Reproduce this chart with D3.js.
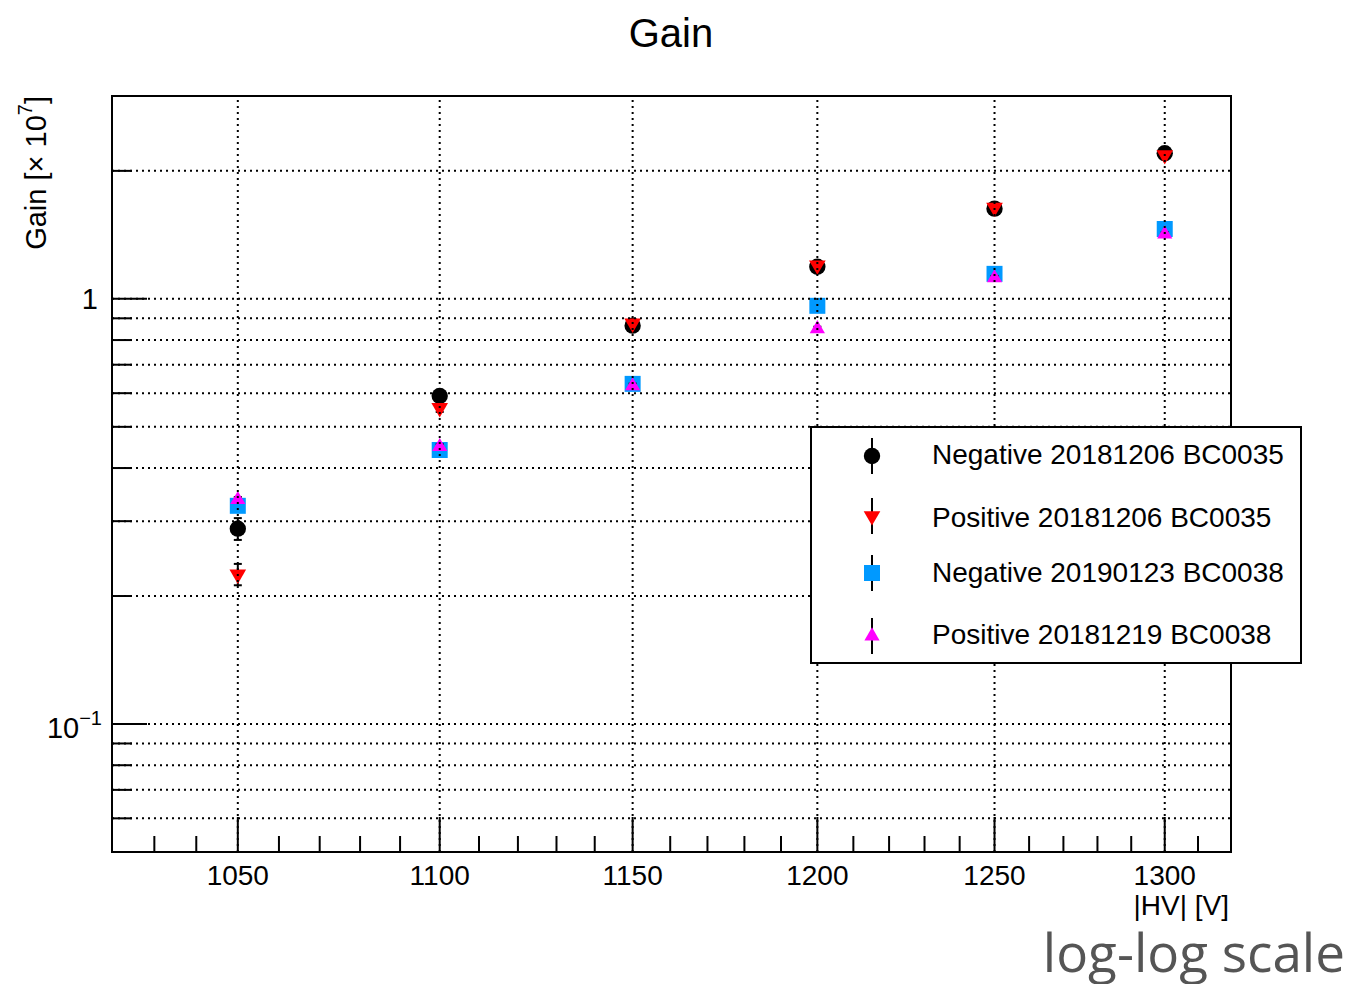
<!DOCTYPE html>
<html><head><meta charset="utf-8">
<script src="https://cdn.jsdelivr.net/npm/d3@7"></script>
<style>
body{margin:0;background:#fff}
text{font-family:"Liberation Sans",Arial,Helvetica,sans-serif;fill:#000}
</style>
</head><body><svg id="c" width="1352" height="984"></svg>
<script>
// ---- data ----
const hv = [1050, 1100, 1150, 1200, 1250, 1300];
const negA = [0.288, 0.591, 0.865, 1.19, 1.63, 2.20];
const negAErr = [0.017, 0.012, 0.018, 0.03, 0.05, 0.07];
const posA = [0.225, 0.554, 0.876, 1.20, 1.64, 2.18];
const posAErr = [0.013, 0.012, 0.015, 0.02, 0.03, 0.04];
const negB = [0.326, 0.441, 0.631, 0.963, 1.145, 1.46];
const negBErr = [0.005, 0.006, 0.008, 0.01, 0.012, 0.015];
const posB = [0.337, 0.449, 0.624, 0.85, 1.12, 1.42];
const posBErr = [0.005, 0.006, 0.008, 0.01, 0.012, 0.015];
const seriesNames = ["Negative 20181206 BC0035", "Positive 20181206 BC0035",
                     "Negative 20190123 BC0038", "Positive 20181219 BC0038"];
const seriesColors = ["#000000", "#ff0000", "#0099ff", "#ff00ff"];
const xTickValues = [1050, 1100, 1150, 1200, 1250, 1300];
const xMinorTicks = [1030,1040,1060,1070,1080,1090,1110,1120,1130,1140,1160,1170,1180,1190,1210,1220,1230,1240,1260,1270,1280,1290,1310];
const yMajorTicks = [0.1, 1];
const yMinorTicks = [0.06,0.07,0.08,0.09,0.2,0.3,0.4,0.5,0.6,0.7,0.8,0.9,2];
const xDomain = [1020, 1320];
const yDomain = [0.05, 3];

// ---- layout ----
const L = 112, R = 1231, T = 96, B = 852;
const svg = d3.select("#c");
const x = d3.scaleLog().domain(xDomain).range([L, R]);
const y = d3.scaleLog().domain(yDomain).range([B, T]);

svg.append("rect").attr("width",1352).attr("height",984).attr("fill","#fff");

// title
svg.append("text").attr("x", 671).attr("y", 47).attr("text-anchor","middle")
  .attr("font-size", 40).text("Gain");

const series = [
  {vals: negA, err: negAErr, sym: d3.symbolCircle, size: 210, rot: 0},
  {vals: posA, err: posAErr, sym: d3.symbolTriangle, size: 120, rot: 180},
  {vals: negB, err: negBErr, sym: d3.symbolSquare, size: 256, rot: 0},
  {vals: posB, err: posBErr, sym: d3.symbolTriangle, size: 100, rot: 0},
];

const plot = svg.append("g");
series.forEach((s, i) => {
  const g = plot.append("g");
  hv.forEach((h, j) => {
    const cx = x(h), v = s.vals[j], e = s.err[j];
    const y1 = y(v + e), y0 = y(v - e);
    g.append("line").attr("x1", cx).attr("x2", cx).attr("y1", y1).attr("y2", y0)
      .attr("stroke", "#000").attr("stroke-width", 2);
    [y1, y0].forEach(yy => g.append("line").attr("x1", cx - 4).attr("x2", cx + 4)
      .attr("y1", yy).attr("y2", yy).attr("stroke", "#000").attr("stroke-width", 2));
    g.append("path").attr("d", d3.symbol(s.sym, s.size)())
      .attr("transform", `translate(${cx},${y(v)}) rotate(${s.rot})`)
      .attr("fill", seriesColors[i]);
  });
});

// grid
const grid = svg.append("g").attr("stroke", "#000").attr("stroke-width", 2)
  .attr("stroke-dasharray", "2,4");
xTickValues.forEach(v => grid.append("line").attr("x1", x(v)).attr("x2", x(v))
  .attr("y1", B).attr("y2", T));
yMajorTicks.concat(yMinorTicks).forEach(v => grid.append("line").attr("x1", L).attr("x2", R)
  .attr("y1", y(v)).attr("y2", y(v)));

// ticks
const tk = svg.append("g").attr("stroke", "#000").attr("stroke-width", 2);
xTickValues.forEach(v => tk.append("line").attr("x1", x(v)).attr("x2", x(v)).attr("y1", B).attr("y2", B - 35));
xMinorTicks.forEach(v => tk.append("line").attr("x1", x(v)).attr("x2", x(v)).attr("y1", B).attr("y2", B - 16));
yMajorTicks.forEach(v => tk.append("line").attr("x1", L).attr("x2", L + 35).attr("y1", y(v)).attr("y2", y(v)));
yMinorTicks.forEach(v => tk.append("line").attr("x1", L).attr("x2", L + 20).attr("y1", y(v)).attr("y2", y(v)));

// frame
svg.append("rect").attr("x", L).attr("y", T).attr("width", R - L).attr("height", B - T)
  .attr("fill", "none").attr("stroke", "#000").attr("stroke-width", 2);

// x tick labels
xTickValues.forEach(v => svg.append("text").attr("x", x(v)).attr("y", 885)
  .attr("text-anchor", "middle").attr("font-size", 28).text(v));
// x title
svg.append("text").attr("x", 1229).attr("y", 915).attr("text-anchor", "end")
  .attr("font-size", 28).text("|HV| [V]");

// y tick labels
svg.append("text").attr("x", 98).attr("y", y(1) + 10).attr("text-anchor", "end")
  .attr("font-size", 29).text("1");
const t01 = svg.append("text").attr("x", 102).attr("y", y(0.1) + 14).attr("text-anchor", "end")
  .attr("font-size", 29);
t01.append("tspan").text("10");
t01.append("tspan").attr("dy", -13).attr("font-size", 20).text("\u22121");

// y title
const yt = svg.append("text").attr("transform", `translate(46,${T}) rotate(-90)`)
  .attr("text-anchor", "end").attr("font-size", 29);
yt.append("tspan").text("Gain [\u00d7 10");
yt.append("tspan").attr("dy", -14).attr("font-size", 20).text("7");
yt.append("tspan").attr("dy", 14).text("]");

// legend
const lg = svg.append("g");
lg.append("rect").attr("x", 811).attr("y", 427).attr("width", 490).attr("height", 236)
  .attr("fill", "#fff").attr("stroke", "#000").attr("stroke-width", 2);
const rowY = [456, 516, 573, 636];
const textY = [464, 527, 582, 644];
series.forEach((s, i) => {
  lg.append("line").attr("x1", 872).attr("x2", 872).attr("y1", rowY[i] - 18).attr("y2", rowY[i] + 18)
    .attr("stroke", "#000").attr("stroke-width", 2);
  lg.append("path").attr("d", d3.symbol(s.sym, s.size)())
    .attr("transform", `translate(872,${rowY[i]}) rotate(${s.rot})`)
    .attr("fill", seriesColors[i]);
  lg.append("text").attr("x", 932).attr("y", textY[i]).attr("font-size", 28).text(seriesNames[i]);
});

// annotation
svg.append("text").attr("x", 1345).attr("y", 972).attr("text-anchor", "end")
  .style("font-family", "'Open Sans', sans-serif").style("fill", "#555")
  .attr("font-size", 53).text("log-log scale");
</script>
</body></html>
